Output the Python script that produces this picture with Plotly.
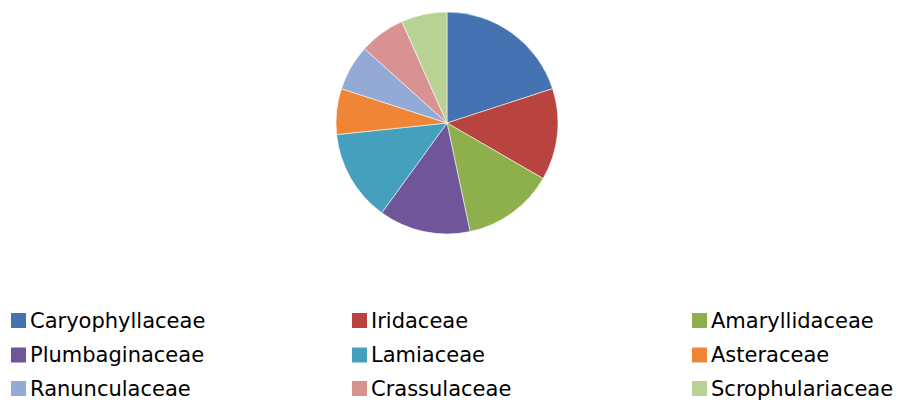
import plotly.graph_objects as go

W, H = 905, 403
PAD = 8  # the page body adds an 8px margin around the figure

families = ['Caryophyllaceae', 'Iridaceae', 'Amaryllidaceae',
            'Plumbaginaceae', 'Lamiaceae', 'Asteraceae',
            'Ranunculaceae', 'Crassulaceae', 'Scrophulariaceae']
counts = [3, 2, 2, 2, 2, 1, 1, 1, 1]
colors = ['#4572B0', '#B8433F', '#8DB04C', '#70559A', '#44A0BC',
          '#EE8636', '#93AAD6', '#D89292', '#B8D295']


def px_x(x):
    return (x - PAD) / W


def px_y(y):
    return 1 - (y - PAD) / H


fig = go.Figure()

# pie centre ~ (447, 123), radius ~110 px (page pixels)
cx, cy, r = 447, 123, 111
fig.add_trace(go.Pie(
    labels=families,
    values=counts,
    sort=False,
    direction='clockwise',
    rotation=0,
    marker=dict(colors=colors, line=dict(color='rgba(255,255,255,0.55)', width=1)),
    textinfo='none',
    hoverinfo='label+value+percent',
    showlegend=False,
    domain=dict(x=[px_x(cx - r), px_x(cx + r)], y=[px_y(cy + r), px_y(cy - r)]),
))

# legend laid out in three columns, like the Excel original
col_x = [11, 352, 692]
row_y = [320.5, 355, 388.5]
sq = 15
shapes = []
annotations = []
for i, (name, col) in enumerate(zip(families, colors)):
    x0 = col_x[i % 3]
    yc = row_y[i // 3]
    shapes.append(dict(type='rect', xref='paper', yref='paper',
                       x0=px_x(x0), x1=px_x(x0 + sq),
                       y0=px_y(yc + sq / 2), y1=px_y(yc - sq / 2),
                       fillcolor=col, line=dict(width=0)))
    annotations.append(dict(text=name, xref='paper', yref='paper',
                            x=px_x(x0 + sq + 2), y=px_y(yc),
                            xanchor='left', yanchor='middle', showarrow=False,
                            font=dict(family='DejaVu Sans', size=21, color='#000000')))

fig.update_layout(
    width=W, height=H,
    margin=dict(l=0, r=0, t=0, b=0),
    paper_bgcolor='white',
    plot_bgcolor='white',
    shapes=shapes,
    annotations=annotations,
)

fig.write_html("out.html")
